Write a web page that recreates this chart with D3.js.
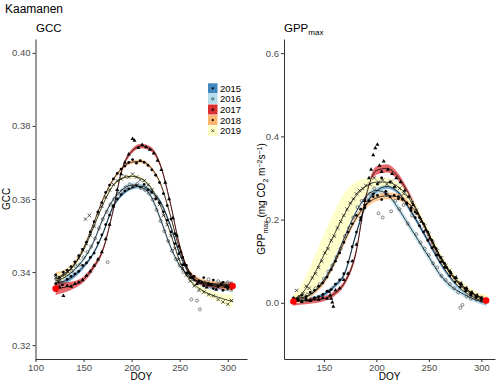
<!DOCTYPE html>
<html><head><meta charset="utf-8">
<script src="https://cdn.jsdelivr.net/npm/d3@7"></script>
<style>body{margin:0;background:#fff}text{font-family:"Liberation Sans",Arial,Helvetica,sans-serif}</style>
</head><body><svg id="c" width="500" height="384"></svg>
<script>
// ---------- DATA ----------
const years = ["2015","2016","2017","2018","2019"];
const yearColors = ["#2c7bb6","#abd9e9","#d7191c","#fdae61","#ffffbf"];
const fitDoy = [121,130,140,150,160,170,180,190,200,210,220,230,240,250,260,270,280,290,300,305];

// GCC fitted curves
const gccFit2015 = [0.3370,0.3375,0.3390,0.3415,0.3450,0.3505,0.3575,0.3612,0.3630,0.3635,0.3622,0.3592,0.3530,0.3450,0.3395,0.3372,0.3363,0.3360,0.3358,0.3357];
const gccFit2016 = [0.3375,0.3385,0.3405,0.3435,0.3480,0.3545,0.3595,0.3625,0.3638,0.3632,0.3608,0.3545,0.3472,0.3418,0.3388,0.3374,0.3369,0.3367,0.3366,0.3366];
const gccFit2017 = [0.3355,0.3358,0.3365,0.3380,0.3412,0.3460,0.3560,0.3680,0.3730,0.3745,0.3737,0.3692,0.3592,0.3472,0.3398,0.3373,0.3366,0.3363,0.3362,0.3362];
const gccFit2018 = [0.3385,0.3395,0.3420,0.3465,0.3530,0.3598,0.3650,0.3684,0.3701,0.3703,0.3686,0.3642,0.3558,0.3462,0.3402,0.3379,0.3370,0.3365,0.3360,0.3358];
const gccFit2019 = [0.3380,0.3392,0.3418,0.3460,0.3520,0.3584,0.3634,0.3656,0.3662,0.3656,0.3632,0.3582,0.3510,0.3430,0.3380,0.3356,0.3341,0.3331,0.3323,0.3320];
const gccSe2015 = [0.0012,0.0009,0.0007,0.0006,0.0005,0.0005,0.0005,0.0005,0.0005,0.0005,0.0005,0.0005,0.0005,0.0005,0.0005,0.0006,0.0007,0.0008,0.0010,0.0012];
const gccSe2016 = [0.0012,0.0009,0.0007,0.0006,0.0006,0.0006,0.0006,0.0007,0.0008,0.0008,0.0008,0.0008,0.0007,0.0006,0.0006,0.0006,0.0007,0.0008,0.0009,0.0011];
const gccSe2017 = [0.0018,0.0014,0.0010,0.0008,0.0007,0.0006,0.0006,0.0006,0.0006,0.0006,0.0006,0.0006,0.0006,0.0006,0.0006,0.0006,0.0007,0.0008,0.0010,0.0012];
const gccSe2018 = [0.0015,0.0011,0.0008,0.0006,0.0005,0.0005,0.0005,0.0005,0.0005,0.0005,0.0005,0.0005,0.0005,0.0005,0.0005,0.0006,0.0007,0.0008,0.0010,0.0012];
const gccSe2019 = [0.0014,0.0010,0.0008,0.0006,0.0005,0.0005,0.0005,0.0005,0.0005,0.0005,0.0005,0.0005,0.0005,0.0005,0.0006,0.0008,0.0010,0.0012,0.0015,0.0018];

// GPPmax fitted curves
const gppFit2015 = [0.005,0.006,0.010,0.020,0.040,0.072,0.160,0.235,0.268,0.280,0.268,0.232,0.190,0.145,0.100,0.063,0.035,0.017,0.005,0.001];
const gppFit2016 = [0.006,0.010,0.025,0.055,0.100,0.160,0.215,0.255,0.270,0.262,0.230,0.190,0.150,0.110,0.070,0.042,0.025,0.012,0.003,0.001];
const gppFit2017 = [0.003,0.004,0.006,0.010,0.022,0.050,0.115,0.255,0.318,0.323,0.305,0.265,0.215,0.160,0.110,0.072,0.045,0.025,0.012,0.006];
const gppFit2018 = [0.010,0.013,0.025,0.050,0.095,0.150,0.200,0.235,0.252,0.257,0.255,0.240,0.210,0.165,0.115,0.072,0.042,0.022,0.010,0.006];
const gppFit2019 = [0.008,0.025,0.065,0.115,0.165,0.215,0.255,0.280,0.290,0.290,0.280,0.255,0.215,0.165,0.115,0.075,0.045,0.025,0.012,0.008];
const gppSe2015 = [0.008,0.006,0.005,0.005,0.005,0.005,0.006,0.006,0.006,0.006,0.006,0.006,0.006,0.006,0.006,0.006,0.006,0.006,0.007,0.008];
const gppSe2016 = [0.008,0.007,0.006,0.006,0.006,0.006,0.007,0.008,0.008,0.008,0.009,0.009,0.009,0.009,0.008,0.008,0.007,0.007,0.007,0.008];
const gppSe2017 = [0.010,0.008,0.007,0.006,0.006,0.006,0.007,0.008,0.010,0.010,0.009,0.008,0.007,0.007,0.006,0.006,0.006,0.006,0.007,0.009];
const gppSe2018 = [0.009,0.007,0.006,0.006,0.006,0.006,0.007,0.008,0.008,0.008,0.008,0.008,0.007,0.007,0.007,0.007,0.007,0.007,0.008,0.010];
const gppSe2019 = [0.010,0.025,0.040,0.050,0.055,0.050,0.035,0.020,0.012,0.010,0.010,0.010,0.010,0.010,0.010,0.010,0.010,0.010,0.010,0.012];

// GCC observations [DOY, GCC]
const gccObs2015 = [[121,0.3368],[124,0.3372],[128,0.3365],[133,0.3380],[137,0.3388],[141,0.3395],[145,0.3402],[149,0.3418],[153,0.3425],[157,0.3440],[161,0.3452],[165,0.3480],[169,0.3502],[173,0.3530],[177,0.3556],[181,0.3582],[185,0.3600],[189,0.3612],[193,0.3622],[197,0.3628],[201,0.3633],[205,0.3638],[209,0.3632],[213,0.3640],[217,0.3625],[221,0.3618],[225,0.3600],[229,0.3590],[233,0.3565],[237,0.3542],[241,0.3510],[245,0.3478],[249,0.3450],[253,0.3420],[257,0.3398],[261,0.3385],[265,0.3378],[270,0.3372],[275,0.3362],[280,0.3368],[285,0.3355],[290,0.3362],[295,0.3350],[300,0.3360],[304,0.3355]];
const gccObs2016 = [[122,0.3380],[126,0.3372],[130,0.3390],[134,0.3395],[138,0.3402],[142,0.3415],[146,0.3420],[150,0.3440],[154,0.3455],[158,0.3470],[162,0.3492],[166,0.3520],[170,0.3545],[174,0.3565],[175,0.3427],[178,0.3585],[182,0.3600],[186,0.3615],[190,0.3622],[194,0.3632],[198,0.3640],[202,0.3636],[206,0.3642],[210,0.3630],[214,0.3625],[218,0.3615],[222,0.3598],[226,0.3570],[230,0.3540],[234,0.3512],[238,0.3485],[242,0.3458],[246,0.3435],[250,0.3418],[254,0.3400],[258,0.3392],[262,0.3325],[264,0.3380],[268,0.3322],[271,0.3298],[276,0.3372],[280,0.3380],[285,0.3362],[290,0.3375],[296,0.3368],[300,0.3372],[304,0.3366]];
const gccObs2017 = [[121,0.3350],[125,0.3358],[129,0.3335],[133,0.3362],[137,0.3360],[141,0.3368],[145,0.3372],[149,0.3378],[153,0.3390],[157,0.3402],[161,0.3418],[165,0.3435],[169,0.3455],[173,0.3490],[177,0.3530],[181,0.3580],[185,0.3625],[189,0.3668],[193,0.3700],[197,0.3722],[201,0.3765],[203,0.3760],[207,0.3740],[211,0.3748],[215,0.3742],[219,0.3735],[223,0.3725],[227,0.3705],[231,0.3680],[235,0.3645],[239,0.3600],[243,0.3548],[247,0.3500],[251,0.3455],[255,0.3420],[259,0.3398],[263,0.3385],[268,0.3368],[273,0.3372],[278,0.3358],[283,0.3365],[288,0.3352],[293,0.3368],[298,0.3360],[303,0.3365]];
const gccObs2018 = [[121,0.3392],[125,0.3385],[129,0.3400],[133,0.3405],[137,0.3415],[141,0.3428],[145,0.3445],[149,0.3462],[153,0.3482],[157,0.3510],[161,0.3538],[165,0.3565],[169,0.3590],[173,0.3618],[177,0.3638],[181,0.3655],[185,0.3670],[189,0.3682],[193,0.3690],[197,0.3700],[201,0.3708],[205,0.3698],[209,0.3705],[213,0.3700],[217,0.3692],[221,0.3680],[225,0.3665],[229,0.3645],[233,0.3615],[237,0.3582],[241,0.3545],[245,0.3505],[249,0.3470],[253,0.3440],[257,0.3418],[261,0.3395],[265,0.3388],[270,0.3375],[275,0.3385],[280,0.3365],[285,0.3378],[290,0.3360],[295,0.3372],[300,0.3355],[304,0.3362]];
const gccObs2019 = [[121,0.3385],[125,0.3378],[129,0.3395],[133,0.3402],[137,0.3410],[141,0.3425],[145,0.3438],[149,0.3460],[152,0.3545],[153,0.3478],[156,0.3555],[157,0.3500],[161,0.3525],[165,0.3560],[169,0.3580],[173,0.3605],[177,0.3625],[181,0.3640],[185,0.3650],[189,0.3655],[193,0.3662],[197,0.3660],[201,0.3668],[205,0.3660],[209,0.3652],[213,0.3650],[217,0.3638],[221,0.3625],[225,0.3605],[229,0.3585],[233,0.3555],[237,0.3530],[241,0.3500],[245,0.3465],[249,0.3435],[253,0.3410],[257,0.3392],[261,0.3375],[265,0.3362],[270,0.3350],[275,0.3345],[280,0.3338],[285,0.3335],[290,0.3325],[295,0.3318],[300,0.3312],[304,0.3322]];

// GPPmax observations [DOY, GPPmax]
const gppObs2015 = [[121,0.004],[125,0.008],[129,0.002],[133,0.010],[137,0.006],[141,0.012],[145,0.015],[149,0.020],[153,0.028],[157,0.032],[161,0.045],[165,0.055],[169,0.070],[173,0.098],[177,0.135],[181,0.170],[185,0.205],[189,0.228],[193,0.245],[197,0.262],[201,0.285],[205,0.300],[209,0.268],[213,0.290],[217,0.278],[221,0.255],[225,0.250],[229,0.238],[233,0.222],[237,0.205],[241,0.185],[245,0.170],[249,0.150],[253,0.132],[257,0.115],[261,0.098],[265,0.085],[270,0.065],[275,0.050],[280,0.038],[285,0.028],[290,0.018],[295,0.012],[300,0.006],[304,0.002]];
const gppObs2016 = [[122,0.008],[126,0.012],[130,0.010],[134,0.020],[138,0.025],[142,0.035],[146,0.045],[150,0.058],[154,0.075],[158,0.090],[162,0.110],[166,0.130],[170,0.160],[174,0.180],[178,0.205],[182,0.230],[186,0.245],[190,0.250],[194,0.262],[198,0.275],[202,0.215],[206,0.205],[210,0.260],[214,0.220],[218,0.245],[222,0.225],[226,0.235],[230,0.190],[234,0.210],[238,0.165],[242,0.145],[246,0.130],[250,0.115],[254,0.095],[258,0.085],[262,0.065],[266,0.055],[270,0.045],[274,0.035],[278,0.025],[280,-0.012],[282,-0.005],[286,0.015],[290,0.010],[295,0.008],[300,0.004],[304,0.002]];
const gppObs2017 = [[121,0.002],[125,0.006],[129,0.003],[133,0.008],[137,0.005],[141,0.010],[145,0.008],[149,0.012],[153,0.010],[155,0.027],[156,0.018],[157,0.010],[158,0.001],[159,-0.009],[161,0.030],[165,0.035],[169,0.055],[173,0.070],[177,0.100],[181,0.140],[185,0.200],[189,0.245],[193,0.300],[195,0.320],[197,0.355],[199,0.372],[201,0.380],[203,0.330],[205,0.315],[207,0.340],[211,0.320],[215,0.310],[219,0.300],[223,0.290],[227,0.270],[231,0.255],[235,0.235],[239,0.215],[243,0.195],[247,0.175],[251,0.155],[255,0.135],[259,0.115],[263,0.100],[267,0.085],[271,0.072],[276,0.060],[281,0.045],[286,0.035],[291,0.025],[296,0.018],[300,0.012],[304,0.006]];
const gppObs2018 = [[121,0.012],[125,0.010],[129,0.018],[133,0.015],[137,0.025],[141,0.030],[145,0.040],[149,0.048],[153,0.062],[157,0.080],[161,0.100],[165,0.120],[169,0.145],[173,0.170],[177,0.190],[181,0.210],[185,0.225],[189,0.235],[193,0.245],[197,0.255],[201,0.258],[205,0.248],[209,0.262],[213,0.255],[217,0.258],[221,0.250],[225,0.248],[229,0.240],[233,0.228],[237,0.218],[241,0.205],[245,0.190],[249,0.170],[253,0.150],[257,0.130],[261,0.110],[265,0.095],[270,0.075],[275,0.060],[280,0.045],[285,0.035],[290,0.022],[295,0.015],[300,0.010],[304,0.008]];
const gppObs2019 = [[121,0.008],[124,0.030],[127,0.015],[130,0.022],[133,0.040],[136,0.035],[139,0.060],[142,0.070],[145,0.085],[148,0.100],[151,0.120],[154,0.130],[157,0.150],[160,0.160],[163,0.180],[166,0.195],[169,0.210],[172,0.225],[175,0.240],[178,0.250],[181,0.262],[184,0.270],[187,0.275],[190,0.282],[194,0.285],[198,0.300],[202,0.290],[206,0.295],[210,0.285],[214,0.292],[218,0.280],[222,0.275],[226,0.262],[230,0.255],[234,0.240],[238,0.222],[242,0.200],[246,0.185],[250,0.165],[254,0.145],[258,0.125],[262,0.108],[266,0.090],[270,0.078],[275,0.062],[280,0.048],[285,0.035],[290,0.025],[295,0.018],[300,0.012],[304,0.008]];

// red end markers [DOY, value]
const gccEnds = [[121,0.3355],[305,0.3362]];
const gppEnds = [[121,0.003],[304.5,0.0055]];

const gccXTicks = [100,150,200,250,300];
const gccYTicks = [0.32,0.34,0.36,0.38,0.40];
const gppXTicks = [150,200,250,300];
const gppYTicks = [0.0,0.2,0.4,0.6];

// ---------- BUILD ----------
const svg = d3.select("#c");
const gccFits = [gccFit2015,gccFit2016,gccFit2017,gccFit2018,gccFit2019];
const gccSes = [gccSe2015,gccSe2016,gccSe2017,gccSe2018,gccSe2019];
const gppFits = [gppFit2015,gppFit2016,gppFit2017,gppFit2018,gppFit2019];
const gppSes = [gppSe2015,gppSe2016,gppSe2017,gppSe2018,gppSe2019];
const gccObs = [gccObs2015,gccObs2016,gccObs2017,gccObs2018,gccObs2019];
const gppObs = [gppObs2015,gppObs2016,gppObs2017,gppObs2018,gppObs2019];

const panels = [
  {x: d3.scaleLinear().domain([100,320]).range([35.5,247]),
   y: d3.scaleLinear().domain([0.3162,0.4038]).range([359,39]),
   xt: gccXTicks, yt: gccYTicks, fmt: d3.format(".2f"),
   fits: gccFits, ses: gccSes, obs: gccObs, ends: gccEnds},
  {x: d3.scaleLinear().domain([112,313]).range([284,495]),
   y: d3.scaleLinear().domain([-0.135,0.634]).range([359,39]),
   xt: gppXTicks, yt: gppYTicks, fmt: d3.format(".1f"),
   fits: gppFits, ses: gppSes, obs: gppObs, ends: gppEnds}
];

const symbolFor = i => [d3.symbolCircle,d3.symbolCircle,d3.symbolTriangle,d3.symbolCircle,d3.symbolTimes][i];
const symSize = [6,7,7,6,9];

panels.forEach(p => {
  const g = svg.append("g");
  // ribbons
  p.fits.forEach((fit, i) => {
    const rows = fitDoy.map((d, k) => ({d, v: fit[k], se: p.ses[i][k]}));
    const area = d3.area().curve(d3.curveMonotoneX)
      .x(r => p.x(r.d)).y0(r => p.y(r.v - r.se)).y1(r => p.y(r.v + r.se));
    g.append("path").datum(rows).attr("d", area)
      .attr("fill", yearColors[i]).attr("fill-opacity", i === 4 ? 0.8 : 0.65);
  });
  // points
  p.obs.forEach((obs, i) => {
    const sym = d3.symbol().type(symbolFor(i)).size(symSize[i]);
    g.selectAll(null).data(obs).enter().append("path")
      .attr("d", sym)
      .attr("transform", d => `translate(${p.x(d[0])},${p.y(d[1])})`)
      .attr("fill", i === 1 || i === 4 ? "none" : "#000")
      .attr("stroke", i === 1 ? "#666" : (i === 4 ? "#111" : "none"))
      .attr("stroke-width", i === 1 ? 0.8 : 0.7);
  });
  // fitted lines
  p.fits.forEach((fit, i) => {
    const rows = fitDoy.map((d, k) => ({d, v: fit[k]}));
    const line = d3.line().curve(d3.curveMonotoneX).x(r => p.x(r.d)).y(r => p.y(r.v));
    g.append("path").datum(rows).attr("d", line)
      .attr("fill", "none").attr("stroke", "#000").attr("stroke-width", 0.75);
  });
  // end markers
  g.selectAll(null).data(p.ends).enter().append("circle")
    .attr("cx", d => p.x(d[0])).attr("cy", d => p.y(d[1])).attr("r", 3.3).attr("fill", "#f00");
  // axes
  const ya = svg.append("g").attr("transform", `translate(${p.x.range()[0]},0)`)
    .call(d3.axisLeft(p.y).tickValues(p.yt).tickFormat(p.fmt).tickSize(3).tickPadding(2).tickSizeOuter(0));
  const xa = svg.append("g").attr("transform", `translate(0,${p.y.range()[0]})`)
    .call(d3.axisBottom(p.x).tickValues(p.xt).tickSize(3).tickPadding(2).tickSizeOuter(0));
  [ya, xa].forEach(a => {
    a.select(".domain").attr("stroke", "#333").attr("stroke-width", 1);
    a.selectAll(".tick line").attr("stroke", "#333");
    a.selectAll(".tick text").attr("fill", "#4d4d4d").attr("font-size", 9.5)
      .attr("font-family", '"Liberation Sans",Arial,sans-serif');
  });
  svg.append("text").attr("x", (p.x.range()[0] + p.x.range()[1]) / 2).attr("y", 380)
    .attr("text-anchor", "middle").attr("font-size", 10).attr("fill", "#000").text("DOY");
});

// titles
svg.append("text").attr("x", 5).attr("y", 13).attr("font-size", 12).text("Kaamanen");
svg.append("text").attr("x", 36).attr("y", 32).attr("font-size", 11.5).text("GCC");
const t2 = svg.append("text").attr("x", 284).attr("y", 32).attr("font-size", 11.5);
t2.append("tspan").text("GPP");
t2.append("tspan").attr("font-size", 8).attr("dy", 3).text("max");

// y axis titles
svg.append("text").attr("transform", "translate(10,199) rotate(-90)")
  .attr("text-anchor", "middle").attr("font-size", 10).text("GCC");
const yl = svg.append("text").attr("transform", "translate(265,199) rotate(-90)")
  .attr("text-anchor", "middle").attr("font-size", 10);
yl.append("tspan").text("GPP");
yl.append("tspan").attr("font-size", 7).attr("dy", 2.5).text("max");
yl.append("tspan").attr("dy", -2.5).text(" (mg CO");
yl.append("tspan").attr("font-size", 7).attr("dy", 2.5).text("2");
yl.append("tspan").attr("dy", -2.5).text(" m");
yl.append("tspan").attr("font-size", 7).attr("dy", -3.5).text("−2");
yl.append("tspan").attr("dy", 3.5).text("s");
yl.append("tspan").attr("font-size", 7).attr("dy", -3.5).text("−1");
yl.append("tspan").attr("dy", 3.5).text(")");

// legend
const lg = svg.append("g");
years.forEach((yr, i) => {
  const cy = 88.3 + i * 10.6;
  lg.append("rect").attr("x", 208).attr("y", cy - 5).attr("width", 9.5).attr("height", 10)
    .attr("fill", yearColors[i]).attr("fill-opacity", 0.9);
  lg.append("path").attr("d", d3.symbol().type(symbolFor(i)).size(i === 4 ? 6 : 4)())
    .attr("transform", `translate(212.75,${cy})`)
    .attr("fill", i === 1 || i === 4 ? "none" : "#000")
    .attr("stroke", i === 1 ? "#333" : (i === 4 ? "#222" : "none")).attr("stroke-width", 0.7);
  lg.append("text").attr("x", 220).attr("y", cy + 3.4).attr("font-size", 9.5).text(yr);
});
</script></body></html>
